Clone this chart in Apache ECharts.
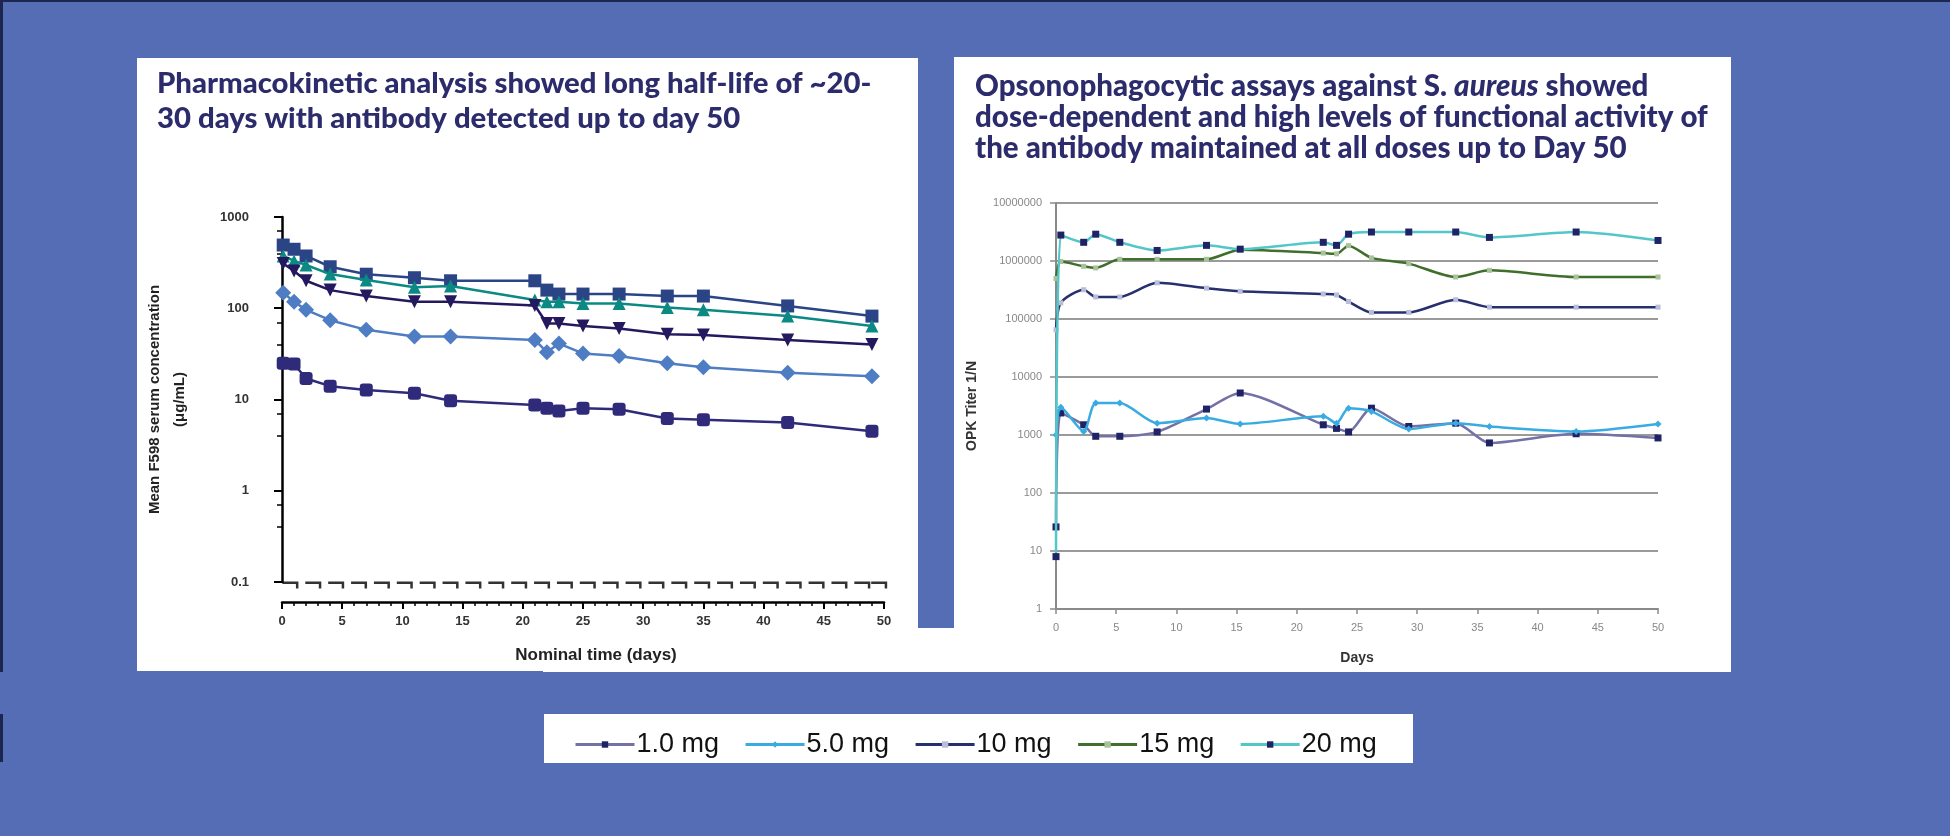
<!DOCTYPE html>
<html>
<head>
<meta charset="utf-8">
<script src="https://cdn.jsdelivr.net/npm/echarts@6.0.0/dist/echarts.min.js"></script>
<style>
html, body { margin: 0; padding: 0; background: #546db5; }
#main { width: 1950px; height: 836px; }
</style>
</head>
<body>
<div id="main"></div>
<script>
var doses = ['1.0 mg', '5.0 mg', '10 mg', '15 mg', '20 mg'];

// left: mean serum concentration (ug/mL) by nominal day
var pkDays = [0.1, 1, 2, 4, 7, 11, 14, 21, 22, 23, 25, 28, 32, 35, 42, 49];
var pk1  = [25, 24.5, 17, 14, 12.7, 11.7, 9.7, 8.7, 8.0, 7.5, 8.0, 7.8, 6.2, 6.0, 5.6, 4.5];
var pk5  = [148, 118, 96, 74, 58, 49, 49, 45, 33, 41, 32, 30, 25, 22.5, 19.7, 18];
var pk10 = [310, 256, 200, 158, 136, 118, 118, 107, 68, 68, 64, 60, 52, 51, 45, 40];
var pk15 = [374, 330, 298, 237, 204, 170, 175, 123, 118, 118, 113, 113, 102, 96, 82, 64];
var pk20 = [493, 443, 374, 285, 236, 216, 200, 200, 158, 143, 143, 143, 136, 136, 106, 82];
// placebo / below limit marks along 0.1
var blqDays = [0.7, 2.6, 4.5, 6.4, 8.3, 10.2, 12.1, 14, 15.9, 17.8, 19.7, 21.6, 23.5, 25.4,
               27.3, 29.2, 31.1, 33, 34.9, 36.8, 38.7, 40.6, 42.5, 44.4, 46.3, 48.2, 49.6];

// right: OPK titer 1/N by day
var opkDays = [0, 0.4, 2.3, 3.3, 5.3, 8.4, 12.5, 15.3, 22.2, 23.3, 24.3, 26.2, 29.3, 33.2, 36, 43.2, 50];
var opk1  = [26, 2400, 1500, 950, 950, 1130, 2800, 5300, 1500, 1300, 1130, 2900, 1400, 1600, 730, 1050, 890];
var opk5  = [1000, 3000, 1150, 3560, 3560, 1600, 1960, 1550, 2100, 1600, 2900, 2550, 1270, 1600, 1400, 1150, 1550];
var opk10 = [65000, 190000, 320000, 240000, 240000, 420000, 340000, 300000, 270000, 260000, 200000, 130000, 130000, 215000, 160000, 160000, 160000];
var opk15 = [500000, 980000, 810000, 760000, 1070000, 1070000, 1070000, 1570000, 1370000, 1330000, 1840000, 1130000, 900000, 530000, 690000, 530000, 530000];
var opk20 = [8, 2800000, 2100000, 2900000, 2100000, 1520000, 1860000, 1600000, 2100000, 1860000, 2900000, 3160000, 3160000, 3160000, 2550000, 3160000, 2260000];

var pkColors  = ['#2f2a7a', '#4f7dc4', '#24195e', '#0b8a84', '#2b4486'];
var pkSymbols = ['roundRect', 'diamond', 'path://M0,0 L10,0 L5,10 Z', 'triangle', 'rect'];
var opkLine   = ['#7471a6', '#38ace2', '#26306e', '#3f6f2b', '#52c6c9'];
var opkMark   = ['#1f2365', '#38ace2', '#b9bdd8', '#a8c29a', '#1f2365'];

function pairs(xs, ys) {
    return xs.map(function (x, i) { return [x, ys[i]]; });
}

var myChart = echarts.init(document.getElementById('main'));

var series = [];
[opk1, opk5, opk10, opk15, opk20].forEach(function (vals, i) {
    series.push({
        name: doses[i],
        type: 'line',
        xAxisIndex: 1,
        yAxisIndex: 1,
        data: pairs(opkDays, vals),
        smooth: 0.25,
        connectNulls: true,
        symbol: i == 1 ? 'diamond' : 'rect',
        symbolSize: i == 2 || i == 3 ? 5 : 7,
        lineStyle: { color: opkLine[i], width: 2.5 },
        itemStyle: { color: opkMark[i] },
        z: 3 + i
    });
});
[pk1, pk5, pk10, pk15, pk20].forEach(function (vals, i) {
    series.push({
        name: doses[i],
        type: 'line',
        xAxisIndex: 0,
        yAxisIndex: 0,
        data: pairs(pkDays, vals),
        symbol: pkSymbols[i],
        symbolSize: i == 1 ? 16 : 13,
        lineStyle: { color: pkColors[i], width: 2.5 },
        itemStyle: { color: pkColors[i] },
        z: 8 - i
    });
});
series.push({
    name: 'BLQ',
    type: 'scatter',
    xAxisIndex: 0,
    yAxisIndex: 0,
    data: blqDays.map(function (d) { return [d, 0.1]; }),
    symbol: 'path://M0,0 H16 V7 H13.5 V2.5 H0 Z',
    symbolSize: [16, 7],
    symbolOffset: [0, 3],
    itemStyle: { color: '#000' },
    silent: true
});

var option = {
    backgroundColor: '#546db5',
    animation: false,
    graphic: [
        { type: 'rect', z: -100, shape: { x: 0, y: 0, width: 1950, height: 2 }, style: { fill: '#1c2750' } },
        { type: 'rect', z: -100, shape: { x: 0, y: 0, width: 3, height: 672 }, style: { fill: '#1c2750' } },
        { type: 'rect', z: -100, shape: { x: 0, y: 714, width: 3, height: 48 }, style: { fill: '#1c2750' } },
        { type: 'rect', z: -100, shape: { x: 137, y: 58, width: 781, height: 613 }, style: { fill: '#fff' } },
        { type: 'rect', z: -100, shape: { x: 954, y: 57, width: 777, height: 615 }, style: { fill: '#fff' } },
        { type: 'rect', z: -100, shape: { x: 543, y: 628, width: 420, height: 44 }, style: { fill: '#fff' } },
        { type: 'rect', z: -100, shape: { x: 544, y: 714, width: 869, height: 49 }, style: { fill: '#fff' } },
        {
            type: 'text', x: 157, y: 66, z: 50,
            style: {
                text: 'Pharmacokinetic analysis showed long half-life of ~20-\n30 days with antibody detected up to day 50',
                fontFamily: 'Lato', fontWeight: 900, fontSize: 29.3, lineHeight: 35, fill: '#2c2c6c'
            }
        },
        {
            type: 'text', x: 975, y: 71, z: 50,
            style: {
                text: 'Opsonophagocytic assays against S. {i|aureus} showed\ndose-dependent and high levels of functional activity of\nthe antibody maintained at all doses up to Day 50',
                fontFamily: 'Lato', fontWeight: 900, fontSize: 29.5, lineHeight: 31, fill: '#2c2c6c',
                rich: {
                    i: { fontFamily: 'Lato', fontWeight: 900, fontStyle: 'italic', fontSize: 29.5, lineHeight: 31, fill: '#2c2c6c' }
                }
            }
        }
    ],
    legend: {
        left: 574,
        top: 731,
        padding: 0,
        itemWidth: 59,
        itemHeight: 8,
        itemGap: 25,
        textStyle: { fontFamily: 'Liberation Sans', fontSize: 27, color: '#111', padding: [0, 0, 0, -3] },
        data: doses.map(function (d, i) {
            return {
                name: d,
                itemStyle: { color: opkMark[i] },
                lineStyle: { color: opkLine[i], width: 3 }
            };
        })
    },
    grid: [
        { left: 282, top: 217, width: 602, height: 365 },
        { left: 1056, top: 203, width: 602, height: 406 }
    ],
    xAxis: [
        {
            gridIndex: 0,
            type: 'value',
            min: 0, max: 50, interval: 5,
            offset: 20,
            name: 'Nominal time (days)',
            nameLocation: 'middle',
            nameGap: 45,
            nameTextStyle: { fontFamily: 'Liberation Sans', fontWeight: 'bold', fontSize: 17, color: '#222', padding: [0, 0, 0, 26] },
            axisLine: { lineStyle: { color: '#000', width: 2.5 } },
            axisTick: { length: 7, lineStyle: { color: '#000', width: 2 } },
            minorTick: { show: true, splitNumber: 5, length: 4, lineStyle: { color: '#000', width: 1.5 } },
            axisLabel: { margin: 13, fontFamily: 'Liberation Sans', fontWeight: 'bold', fontSize: 13, color: '#333' },
            splitLine: { show: false }
        },
        {
            gridIndex: 1,
            type: 'value',
            min: 0, max: 50, interval: 5,
            name: 'Days',
            nameLocation: 'middle',
            nameGap: 42,
            nameTextStyle: { fontFamily: 'Liberation Sans', fontWeight: 'bold', fontSize: 14, color: '#333' },
            axisLine: { lineStyle: { color: '#8a8a8a', width: 2 } },
            axisTick: { length: 5, lineStyle: { color: '#8a8a8a', width: 1.5 } },
            axisLabel: { margin: 13, fontFamily: 'Liberation Sans', fontSize: 11, color: '#888' },
            splitLine: { show: false }
        }
    ],
    yAxis: [
        {
            gridIndex: 0,
            type: 'log',
            logBase: 10,
            min: 0.1, max: 1000,
            offset: 20,
            name: 'Mean F598 serum concentration\n(\u03bcg/mL)',
            nameLocation: 'middle',
            nameRotate: 90,
            nameGap: 70,
            nameTextStyle: { fontFamily: 'Liberation Sans', fontWeight: 'bold', fontSize: 15, lineHeight: 25, color: '#222' },
            axisLine: { show: true, lineStyle: { color: '#000', width: 2.5 } },
            axisTick: { show: true, length: 8, lineStyle: { color: '#000', width: 2 } },
            minorTick: { show: true, splitNumber: 3, length: 5, lineStyle: { color: '#000', width: 1.5 } },
            axisLabel: {
                margin: 13, fontFamily: 'Liberation Sans', fontWeight: 'bold', fontSize: 13, color: '#333',
                formatter: function (v) { return String(v); }
            },
            splitLine: { show: false }
        },
        {
            gridIndex: 1,
            type: 'log',
            logBase: 10,
            min: 1, max: 10000000,
            name: 'OPK Titer 1/N',
            nameLocation: 'middle',
            nameRotate: 90,
            nameGap: 77,
            nameTextStyle: { fontFamily: 'Liberation Sans', fontWeight: 'bold', fontSize: 14, color: '#333' },
            axisLine: { show: true, lineStyle: { color: '#8a8a8a', width: 2 } },
            axisTick: { show: true, length: 6, lineStyle: { color: '#8a8a8a', width: 1.5 } },
            axisLabel: {
                margin: 14, fontFamily: 'Liberation Sans', fontSize: 11, color: '#888',
                formatter: function (v) { return String(v); }
            },
            splitLine: { show: true, lineStyle: { color: '#9a9a9a', width: 2 } }
        }
    ],
    series: series
};

myChart.setOption(option);
</script>
</body>
</html>
